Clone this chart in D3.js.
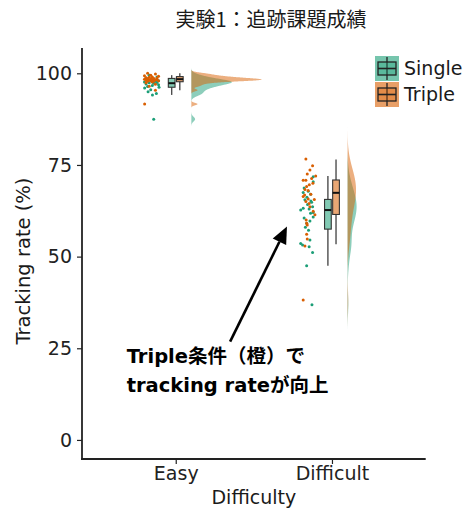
<!DOCTYPE html>
<html>
<head>
<meta charset="utf-8">
<title>実験1：追跡課題成績</title>
<style>
body, html { margin: 0; padding: 0; background: #fff; }
svg text { font-family: 'DejaVu Sans', 'Noto Sans CJK JP', sans-serif; fill: #1a1a1a; }
.axis path, .axis line { stroke: #222; }
.axis text { font-size: 19px; fill: #222; }
.note { font-weight: bold; font-size: 19.5px; fill: #000; }
</style>
<script src="https://d3js.org/d3.v7.min.js"></script>
</head>
<body>
<div id="chart"></div>
<script>
// ---- data ----
var categories = ["Easy", "Difficult"];
var conditions = ["Single", "Triple"];
var colors = ["#1b9e77", "#d95f02"];
var yTicks = [0, 25, 50, 75, 100];

// [tracking rate, horizontal jitter in category units]
var easySingle = [[99.5,-0.17],[99.0,-0.12],[98.7,-0.19],[98.4,-0.14],[98.2,-0.16],[98.0,-0.11],
  [97.9,-0.18],[97.8,-0.13],[97.7,-0.15],[97.6,-0.20],[97.5,-0.12],[97.4,-0.17],[97.3,-0.14],
  [97.1,-0.19],[96.9,-0.11],[96.7,-0.15],[96.4,-0.18],[96.2,-0.107],[96.0,-0.199],[95.5,-0.16],
  [95.0,-0.177],[94.5,-0.124],[94.1,-0.149],[87.5,-0.141]];
var easyTriple = [[100,-0.18],[99.8,-0.13],[99.5,-0.16],[99.3,-0.20],[99.2,-0.11],[99.0,-0.15],
  [98.9,-0.17],[98.8,-0.19],[98.7,-0.12],[98.6,-0.14],[98.5,-0.18],[98.5,-0.16],[98.4,-0.20],
  [98.3,-0.12],[98.3,-0.15],[98.2,-0.17],[98.2,-0.13],[98.1,-0.19],[98.0,-0.11],[98.0,-0.16],
  [97.9,-0.14],[97.8,-0.18],[97.6,-0.15],[97.4,-0.19],[97.0,-0.13],[96.5,-0.17],[95.4,-0.13],
  [91.6,-0.199]];
var difficultSingle = [[71.8,-0.12],[70.4,-0.12],[68.7,-0.178],[67.8,-0.152],[67.5,-0.184],
  [67.0,-0.137],[66.2,-0.16],[65.5,-0.173],[65.2,-0.135],[64.8,-0.13],[64.2,-0.156],[63.6,-0.124],
  [63.2,-0.184],[63.0,-0.146],[62.7,-0.20],[62.0,-0.12],[61.8,-0.137],[60.8,-0.12],[60.5,-0.178],
  [59.7,-0.141],[59.1,-0.162],[58.0,-0.17],[57.2,-0.15],[54.5,-0.141],[53.6,-0.20],[53.2,-0.188],
  [52.7,-0.146],[51.1,-0.124],[47.5,-0.162],[36.9,-0.128]];
var difficultTriple = [[76.6,-0.167],[74.8,-0.124],[73.6,-0.141],[72.5,-0.158],[72.0,-0.104],
  [71.3,-0.13],[70.8,-0.184],[70.8,-0.167],[70.0,-0.122],[69.6,-0.145],[69.1,-0.162],[68.3,-0.173],
  [68.0,-0.152],[67.0,-0.135],[66.8,-0.175],[66.4,-0.184],[65.7,-0.152],[65.6,-0.113],[65.0,-0.167],
  [64.5,-0.146],[63.6,-0.141],[62.4,-0.12],[61.4,-0.109],[60.0,-0.165],[59.1,-0.162],[58.6,-0.158],
  [56.1,-0.162],[54.8,-0.158],[52.9,-0.173],[38.2,-0.184]];

// box stats: [lower whisker, Q1, median, Q3, upper whisker]
var boxEasySingle = [94.1, 96.2, 97.3, 98.6, 99.5];
var boxEasyTriple = [95.4, 97.7, 98.4, 99.1, 100];
var boxDifficultSingle = [47.5, 57.5, 62.7, 65.6, 72.0];
var boxDifficultTriple = [53.4, 61.5, 67.4, 70.9, 76.5];

var noteLines = ["Triple条件（橙）で", "tracking rateが向上"];

// ---- build groups ----
var groups = [
  { cat: "Easy", cond: 0, pts: easySingle, box: boxEasySingle },
  { cat: "Easy", cond: 1, pts: easyTriple, box: boxEasyTriple },
  { cat: "Difficult", cond: 0, pts: difficultSingle, box: boxDifficultSingle },
  { cat: "Difficult", cond: 1, pts: difficultTriple, box: boxDifficultTriple }
];

var W = 464, H = 508;
var panel = { left: 82, right: 425.7, top: 48, bottom: 459 };

var x = d3.scalePoint().domain(categories).range([panel.left, panel.right]).padding(0.6);
var step = x.step();
var y = d3.scaleLinear().domain([-5.2, 106.9]).range([panel.bottom, panel.top]);

// position in category units (1 = Easy, 2 = Difficult)
var xu = function(u) { return x(categories[0]) + (u - 1) * step; };

// kernel density like R density() with bw.nrd0, 3*bw cut
function kde(values) {
  var v = values.slice().sort(d3.ascending);
  var n = v.length;
  var sd = d3.deviation(v);
  var iqr = d3.quantileSorted(v, 0.75) - d3.quantileSorted(v, 0.25);
  var bw = 0.9 * Math.min(sd, iqr / 1.34) * Math.pow(n, -0.2);
  var lo = v[0] - 3 * bw, hi = v[n - 1] + 3 * bw;
  var out = [];
  for (var i = 0; i < 512; i++) {
    var t = lo + (hi - lo) * i / 511;
    var s = 0;
    for (var j = 0; j < n; j++) {
      var z = (t - v[j]) / bw;
      s += Math.exp(-0.5 * z * z);
    }
    out.push([t, s / (n * bw * Math.sqrt(2 * Math.PI))]);
  }
  return out;
}

groups.forEach(function(g) { g.dens = kde(g.pts.map(function(p) { return p[0]; })); });
var maxDens = d3.max(groups, function(g) { return d3.max(g.dens, function(d) { return d[1]; }); });

var svg = d3.select("#chart").append("svg")
  .attr("width", W).attr("height", H);

// half violins
var nudge = 0.1, halfWidth = 0.45;
groups.forEach(function(g) {
  var x0 = x(g.cat) + nudge * step;
  var area = d3.area()
    .x0(x0)
    .x1(function(d) { return x0 + d[1] / maxDens * halfWidth * step; })
    .y(function(d) { return y(d[0]); });
  svg.append("path")
    .datum(g.dens)
    .attr("d", area)
    .attr("fill", colors[g.cond])
    .attr("fill-opacity", 0.5);
});

// jittered points
groups.forEach(function(g) {
  svg.append("g").selectAll("circle")
    .data(g.pts)
    .enter().append("circle")
    .attr("cx", function(d) { return x(g.cat) + d[1] * step; })
    .attr("cy", function(d) { return y(d[0]); })
    .attr("r", 1.5)
    .attr("fill", colors[g.cond]);
});

// boxplots
var dodge = 0.026, boxW = 0.043;
groups.forEach(function(g) {
  var cx = x(g.cat) + (g.cond === 0 ? -dodge : dodge) * step;
  var bw = boxW * step;
  var b = g.box;
  var gb = svg.append("g");
  gb.append("line").attr("x1", cx).attr("x2", cx).attr("y1", y(b[0])).attr("y2", y(b[1]))
    .attr("stroke", "#4d4d4d").attr("stroke-width", 1.4);
  gb.append("line").attr("x1", cx).attr("x2", cx).attr("y1", y(b[3])).attr("y2", y(b[4]))
    .attr("stroke", "#4d4d4d").attr("stroke-width", 1.4);
  gb.append("rect")
    .attr("x", cx - bw / 2).attr("width", bw)
    .attr("y", y(b[3])).attr("height", y(b[1]) - y(b[3]))
    .attr("fill", colors[g.cond]).attr("fill-opacity", 0.55)
    .attr("stroke", "#333").attr("stroke-width", 1.1);
  gb.append("line").attr("x1", cx - bw / 2).attr("x2", cx + bw / 2)
    .attr("y1", y(b[2])).attr("y2", y(b[2]))
    .attr("stroke", "#111").attr("stroke-width", 2);
});

// axes
var yAxis = svg.append("g").attr("class", "axis")
  .attr("transform", "translate(" + panel.left + ",0)")
  .call(d3.axisLeft(y).tickValues(yTicks).tickSize(5).tickPadding(5));
yAxis.select(".domain").attr("d", "M0," + panel.top + "V" + panel.bottom).attr("stroke-width", 1.8);
yAxis.selectAll(".tick line").attr("stroke", "#444").attr("stroke-width", 1.2);

var xAxis = svg.append("g").attr("class", "axis")
  .attr("transform", "translate(0," + panel.bottom + ")")
  .call(d3.axisBottom(x).tickSize(5).tickPadding(3));
xAxis.select(".domain").attr("d", "M" + (panel.left - 1) + ",0H" + panel.right).attr("stroke-width", 1.8);
xAxis.selectAll(".tick line").attr("stroke", "#444").attr("stroke-width", 1.2);

// titles
svg.append("text")
  .attr("x", 271).attr("y", 27)
  .attr("text-anchor", "middle")
  .style("font-size", "20px")
  .style("font-family", "'Noto Sans CJK JP', sans-serif")
  .text("実験1：追跡課題成績");

svg.append("text")
  .attr("x", (panel.left + panel.right) / 2).attr("y", 504)
  .attr("text-anchor", "middle")
  .style("font-size", "19px")
  .text("Difficulty");

svg.append("text")
  .attr("transform", "translate(30," + 261 + ") rotate(-90)")
  .attr("text-anchor", "middle")
  .style("font-size", "19.5px")
  .text("Tracking rate (%)");

// legend
var lg = svg.append("g").attr("transform", "translate(375,56)");
conditions.forEach(function(c, i) {
  var k = lg.append("g").attr("transform", "translate(0," + i * 26 + ")");
  k.append("rect").attr("width", 24).attr("height", 25)
    .attr("fill", colors[i]).attr("fill-opacity", 0.6);
  k.append("line").attr("x1", 12).attr("x2", 12).attr("y1", 1).attr("y2", 24)
    .attr("stroke", "#222").attr("stroke-width", 1.3);
  k.append("rect").attr("x", 3).attr("y", 6).attr("width", 18).attr("height", 13)
    .attr("fill", colors[i]).attr("fill-opacity", 0.3)
    .attr("stroke", "#222").attr("stroke-width", 1.3);
  k.append("line").attr("x1", 3).attr("x2", 21).attr("y1", 12.5).attr("y2", 12.5)
    .attr("stroke", "#222").attr("stroke-width", 1.6);
  k.append("text").attr("x", 29).attr("y", 12.5).attr("dy", "0.36em")
    .style("font-size", "19px").text(c);
});

// annotation
var note = svg.append("g");
noteLines.forEach(function(t, i) {
  note.append("text").attr("class", "note")
    .attr("x", xu(0.686)).attr("y", y(i === 0 ? 21 : 13))
    .text(t);
});
var a0 = [xu(1.348), y(26.8)], a1 = [xu(1.712), y(58.2)];
var ang = Math.atan2(a1[1] - a0[1], a1[0] - a0[0]);
var headL = 17, headW = 7.5;
var base = [a1[0] - headL * Math.cos(ang), a1[1] - headL * Math.sin(ang)];
note.append("line")
  .attr("x1", a0[0]).attr("y1", a0[1]).attr("x2", base[0]).attr("y2", base[1])
  .attr("stroke", "#000").attr("stroke-width", 2.6);
note.append("path")
  .attr("d", "M" + a1[0] + "," + a1[1] +
    "L" + (base[0] + headW * Math.sin(ang)) + "," + (base[1] - headW * Math.cos(ang)) +
    "L" + (base[0] - headW * Math.sin(ang)) + "," + (base[1] + headW * Math.cos(ang)) + "Z")
  .attr("fill", "#000");
</script>
</body>
</html>
